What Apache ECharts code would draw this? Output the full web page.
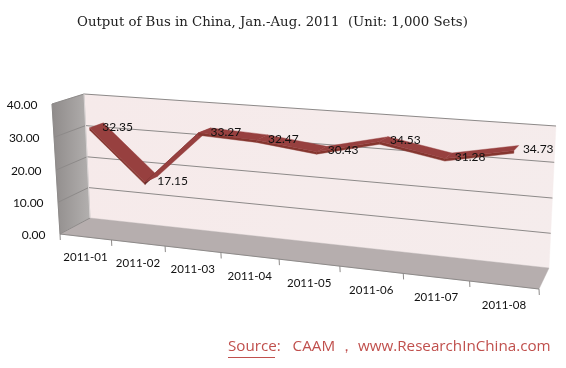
<!DOCTYPE html>
<html><head><meta charset="utf-8">
<style>html,body{margin:0;padding:0;background:#fff}#c{width:566px;height:368px}</style>
<script src="https://cdn.jsdelivr.net/npm/echarts@6/dist/echarts.min.js"></script>
</head><body><div id="c"></div>
<script>
const categories = ['2011-01','2011-02','2011-03','2011-04','2011-05','2011-06','2011-07','2011-08'];
const values = [32.35,17.15,33.27,32.47,30.43,34.53,31.28,34.73];
const yTicks = [0,10,20,30,40];
const yMax = 40;

// Perspective frame: corners of the front and back planes (BL, BR, TR, TL)
const frontQuad = [[60,234],[539,289],[548,136],[52,104]];
const backQuad  = [[90,218],[549,268],[556,126],[84,94]];
const RIB_D0 = 0.32, RIB_D1 = 0.76, RIB_THICK = 0.018;

function homography(q){
  const [x0,y0]=q[0],[x1,y1]=q[1],[x2,y2]=q[2],[x3,y3]=q[3];
  const dx1=x1-x2,dx2=x3-x2,sx=x0-x1+x2-x3,dy1=y1-y2,dy2=y3-y2,sy=y0-y1+y2-y3;
  const den=dx1*dy2-dx2*dy1;
  const g=(sx*dy2-dx2*sy)/den,h=(dx1*sy-sx*dy1)/den;
  const a=x1-x0+g*x1,b=x3-x0+h*x3,d=y1-y0+g*y1,e=y3-y0+h*y3;
  return (u,v)=>{const w=g*u+h*v+1;return [(a*u+b*v+x0)/w,(d*u+e*v+y0)/w];};
}
const Hf=homography(frontQuad),Hb=homography(backQuad);
function P(u,v,d){const f=Hf(u,v),b=Hb(u,v);return [f[0]+(b[0]-f[0])*d,f[1]+(b[1]-f[1])*d];}
// grid pixel -> unit square
function norm(pt,cs){return [(pt[0]-cs.x)/cs.width,1-(pt[1]-cs.y)/cs.height];}
function poly(points,fill,z2){return {type:'polygon',shape:{points},style:{fill,stroke:fill,lineWidth:0.4},z2:z2||0,silent:true};}
function line(a,b,stroke,w){return {type:'line',shape:{x1:a[0],y1:a[1],x2:b[0],y2:b[1]},style:{stroke,lineWidth:w||1},silent:true};}
const font='Lato, "Open Sans", sans-serif';

function renderFrame(params,api){
  const cs=params.coordSys,ch=[];
  const vy=t=>norm(api.coord([0,t]),cs)[1];
  ch.push(poly([P(0,0,1),P(1,0,1),P(1,1,1),P(0,1,1)],new echarts.graphic.LinearGradient(0,0,1,1,[{offset:0,color:'#f6eaea'},{offset:1,color:'#f5ecec'}])));
  ch.push(poly([P(0,0,0),P(0,0,1),P(0,1,1),P(0,1,0)],new echarts.graphic.LinearGradient(0,0,1,0,[{offset:0,color:'#8f8b8a'},{offset:1,color:'#b3b0af'}])));
  ch.push(poly([P(0,0,0),P(1,0,0),P(1,0,1),P(0,0,1)],'#b6aeae'));
  yTicks.forEach(t=>{
    const v=vy(t);
    ch.push(line(P(0,v,0),P(0,v,1),'#8d8a89',1));
    if(t>0) ch.push(line(P(0,v,1),P(1,v,1),'#8d8a89',1));
    const a=P(0,v,0);
    ch.push({type:'text',style:{x:a[0]-14.5,y:a[1]+1,text:t.toFixed(2),align:'right',verticalAlign:'middle',font:'12px '+font,fill:'#111'},silent:true});
  });
  ch.push(line(P(0,0,0),P(1,0,0),'#8d8a89',1));
  ch.push(line(P(0,0,0),P(0,1,0),'#8d8a89',1));
  ch.push(line(P(0,0,1),P(0,1,1),'#d9d4d4',1));
  const n=categories.length;
  for(let i=0;i<=n;i++){
    const a=P(i/n,0,0);
    ch.push(line(a,[a[0]+0.3,a[1]+6],'#8d8a89',1));
  }
  categories.forEach((c,i)=>{
    const a=norm(api.coord([i,0]),cs);
    const p=P(a[0],0,0);
    ch.push({type:'text',style:{x:p[0],y:p[1]+20.5,text:c,align:'center',verticalAlign:'middle',font:'11.5px '+font,fill:'#111'},silent:true});
  });
  return {type:'group',children:ch};
}
function renderRibbon(params,api){
  const i=params.dataIndex;
  if(i>=values.length-1) return null;
  const cs=params.coordSys;
  const a=norm(api.coord([i,values[i]]),cs),b=norm(api.coord([i+1,values[i+1]]),cs);
  const dv=RIB_THICK;
  const steepRise=values[i+1]-values[i]>10;
  const top=poly([P(a[0],a[1],RIB_D0),P(b[0],b[1],RIB_D0),P(b[0],b[1],RIB_D1),P(a[0],a[1],RIB_D1)],'#97403f');
  const front=poly([P(a[0],a[1],RIB_D0),P(b[0],b[1],RIB_D0),P(b[0],b[1]-dv,RIB_D0),P(a[0],a[1]-dv,RIB_D0)],steepRise?'#5f2624':'#85362f');
  return {type:'group',children:[front,top]};
}
function renderLabel(params,api){
  const i=params.dataIndex,cs=params.coordSys;
  const a=norm(api.coord([i,values[i]]),cs);
  const p=P(a[0],a[1],0.5);
  return {type:'text',style:{x:p[0]+7,y:p[1]+1,text:values[i].toFixed(2),align:'left',verticalAlign:'middle',font:'12px '+font,fill:'#111'},silent:true};
}
const chart=echarts.init(document.getElementById('c'),null,{renderer:'canvas'});
chart.setOption({
  animation:false,backgroundColor:'#fff',
  title:{text:'Output of Bus in China, Jan.-Aug. 2011  (Unit: 1,000 Sets)',left:72,top:11,
    textStyle:{fontFamily:'"DejaVu Serif", serif',fontSize:13.3,fontWeight:'normal',color:'#222'}},
  grid:{left:60,right:20,top:100,bottom:130},
  xAxis:{type:'category',data:categories,show:false},
  yAxis:{type:'value',min:0,max:yMax,interval:10,show:false},
  series:[
    {type:'custom',coordinateSystem:'cartesian2d',data:[[0,0]],renderItem:renderFrame,silent:true,z:1,clip:false},
    {type:'custom',coordinateSystem:'cartesian2d',data:values.map((v,i)=>[i,v]),renderItem:renderRibbon,silent:true,z:2,clip:false},
    {type:'custom',coordinateSystem:'cartesian2d',data:values.map((v,i)=>[i,v]),renderItem:renderLabel,silent:true,z:3,clip:false}
  ],
  graphic:[
    {type:'text',left:228,top:339,style:{text:'Source:   CAAM \uFF0C www.ResearchInChina.com',font:'15.2px "Open Sans", sans-serif',fill:'#c0504d'},silent:true},
    {type:'rect',left:228,top:357,shape:{width:47,height:1},style:{fill:'#c0504d'},silent:true}
  ]
});
</script></body></html>
